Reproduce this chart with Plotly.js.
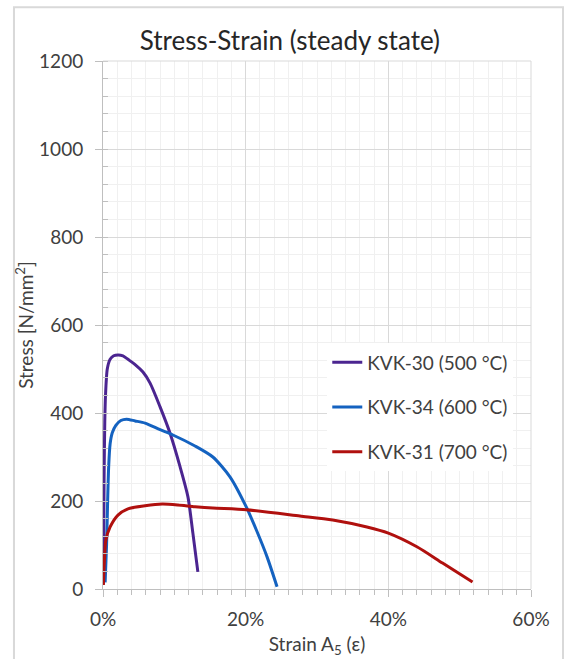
<!DOCTYPE html>
<html>
<head>
<meta charset="utf-8">
<script src="https://cdn.plot.ly/plotly-3.0.1.min.js"></script>
<style>html,body{margin:0;padding:0;background:#fff;}#chart{width:565px;height:659px;}</style>
</head>
<body>
<div id="chart"></div>
<script>
// Strain in %, stress in N/mm²
const names = ["KVK-30 (500 °C)", "KVK-34 (600 °C)", "KVK-31 (700 °C)"];
const colors = ["#4B2590", "#1462C0", "#B0100E"];

const strain30 = [0.05, 0.1, 0.15, 0.25, 0.35, 0.6, 1.0, 1.5, 2.1, 2.8, 3.5, 4.5, 5.6, 6.6, 8.0, 9.4, 10.8, 11.9, 12.6, 13.3];
const stress30 = [10, 100, 250, 380, 440, 500, 522, 530, 532, 530, 522, 510, 493, 468, 414, 354, 278, 210, 127, 39];

const strain34 = [0.3, 0.5, 0.65, 0.8, 1.0, 1.3, 1.8, 2.5, 3.3, 4.5, 5.9, 8.0, 9.8, 12.9, 15.4, 17.8, 20.1, 21.5, 23.0, 24.4];
const stress34 = [15, 100, 200, 280, 330, 355, 372, 383, 386, 382, 377, 362, 350, 325, 300, 255, 186, 134, 73, 5];

const strain31 = [0.05, 0.2, 0.4, 1.0, 2.1, 3.5, 5.9, 8.3, 10.5, 12.9, 15.4, 20.1, 27.6, 32.2, 37.0, 40.0, 44.0, 47.6, 51.8];
const stress31 = [9, 66, 111, 141, 168, 182, 189, 193, 191, 187, 184, 180, 166, 157, 141, 127, 96, 59, 16];

const xTickVals = [0, 20, 40, 60];
const xTickText = ["0%", "20%", "40%", "60%"];
const yTickVals = [0, 200, 400, 600, 800, 1000, 1200];

const FONT = "Lato, 'Open Sans', sans-serif";
const mk = (x, y, i) => ({
  x: x, y: y, type: "scatter", mode: "lines", name: names[i],
  line: {color: colors[i], width: 3, shape: "spline", smoothing: 0.7}, legendgroup: "g" + i
});
const data = [mk(strain30, stress30, 0), mk(strain34, stress34, 1), mk(strain31, stress31, 2)];

const layout = {
  width: 565, height: 659,
  paper_bgcolor: "#ffffff", plot_bgcolor: "#ffffff",
  margin: {l: 103, r: 34, t: 61, b: 70},
  font: {family: FONT, color: "#404040", size: 19},
  title: {text: "Stress-Strain (steady state)", font: {family: FONT, size: 26, color: "#262626"},
          x: 0.513, xanchor: "center", y: 0.938, yanchor: "middle"},
  showlegend: true,
  legend: {x: 0.524, y: 0.465, xanchor: "left", yanchor: "top", bgcolor: "#ffffff",
           font: {family: FONT, size: 19, color: "#404040"}, tracegroupgap: 17, itemwidth: 30},
  xaxis: {
    range: [0, 60], tickvals: xTickVals, ticktext: xTickText,
    showline: true, linecolor: "#bfbfbf", linewidth: 1,
    showgrid: true, gridcolor: "#d9d9d9", gridwidth: 1,
    ticks: "outside", ticklen: 7, tickcolor: "#bfbfbf", ticklabelstandoff: 6,
    minor: {dtick: 2, ticks: "outside", ticklen: 5, tickcolor: "#bfbfbf", showgrid: true, gridcolor: "#f0f0f0"},
    zeroline: false, mirror: false,
    tickfont: {size: 19, color: "#404040"},
    title: {text: "Strain A<sub>5</sub> (ε)", font: {size: 19, color: "#404040"}, standoff: 8}
  },
  yaxis: {
    range: [0, 1200], tickvals: yTickVals,
    showline: true, linecolor: "#bfbfbf", linewidth: 1,
    showgrid: true, gridcolor: "#d9d9d9", gridwidth: 1,
    ticks: "outside", ticklen: 7, tickcolor: "#bfbfbf", ticklabelstandoff: 8,
    minor: {dtick: 40, ticks: "inside", ticklen: 5, tickcolor: "#bfbfbf", showgrid: true, gridcolor: "#f0f0f0"},
    zeroline: false,
    tickfont: {size: 19, color: "#404040"},
    title: {text: "Stress [N/mm<sup>2</sup>]", font: {size: 19, color: "#404040"}, standoff: 0}
  },
  shapes: [
    {type: "line", xref: "paper", yref: "paper", x0: 0, x1: 1, y0: 1, y1: 1, line: {color: "#d9d9d9", width: 1}},
    {type: "line", xref: "paper", yref: "paper", x0: 1, x1: 1, y0: 0, y1: 1, line: {color: "#d9d9d9", width: 1}},
    {type: "rect", xref: "paper", yref: "paper", x0: -0.208, x1: 1.0748, y0: -0.15, y1: 1.102,
     line: {color: "#d9d9d9", width: 2}, fillcolor: "rgba(0,0,0,0)", layer: "below"}
  ]
};

Plotly.newPlot("chart", data, layout, {displayModeBar: false, staticPlot: true});
</script>
</body>
</html>
